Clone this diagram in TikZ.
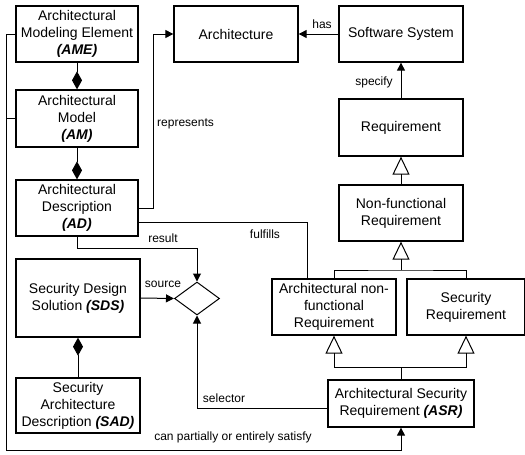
\documentclass[tikz,border=0pt]{standalone}
\usepackage{fontspec}
\setmainfont{Liberation Sans}
\usetikzlibrary{arrows.meta,shapes.geometric}

\newcommand{\abbr}[1]{\textbf{\textit{(#1)}}}

\begin{document}
\begin{tikzpicture}[x=1pt, y=-1pt,
    box/.style={draw, line width=1.3pt, align=center, inner sep=2pt,
        font=\fontsize{14}{17}\selectfont},
    lbl/.style={font=\fontsize{12}{14}\selectfont, inner sep=1pt},
    conn/.style={line width=1pt},
    arr/.style={conn, -{Triangle[length=8pt,width=8pt]}},
    comp/.style={conn, -{Diamond[length=18pt,width=10pt]}},
    gen/.style={conn, -{Triangle[open,length=18pt,width=17pt]}}]
    \useasboundingbox (0,0) rectangle (525,455);

    % classes
    \node[box, minimum width=122pt, minimum height=56pt] (ame) at (77,34)
        {Architectural\\Modeling Element\\\abbr{AME}};
    \node[box, minimum width=124pt, minimum height=56pt] (arch) at (236,34)
        {Architecture};
    \node[box, minimum width=124pt, minimum height=56pt] (ss) at (401,34)
        {Software System};
    \node[box, minimum width=122pt, minimum height=57pt] (am) at (77,118.5)
        {Architectural\\Model\\\abbr{AM}};
    \node[box, minimum width=124pt, minimum height=57pt] (req) at (401,127.5)
        {Requirement};
    \node[box, minimum width=122pt, minimum height=56pt] (ad) at (77,208)
        {Architectural\\Description\\\abbr{AD}};
    \node[box, minimum width=124pt, minimum height=56pt] (nfr) at (401,213)
        {Non-functional\\Requirement};
    \node[box, minimum width=124pt, minimum height=56pt] (anfr) at (334,307)
        {Architectural non-\\functional\\Requirement};
    \node[box, minimum width=118pt, minimum height=56pt] (sr) at (466,307)
        {Security\\Requirement};
    \node[box, minimum width=124pt, minimum height=78pt] (sds) at (78,298)
        {Security Design\\Solution \abbr{SDS}};
    \node[box, minimum width=124pt, minimum height=55pt] (sad) at (78,405.5)
        {Security\\Architecture\\Description \abbr{SAD}};
    \node[box, minimum width=146pt, minimum height=47pt] (asr) at (401,403.5)
        {Architectural Security\\Requirement \abbr{ASR}};
    \node[draw, line width=1pt, diamond, aspect=1.36, inner sep=0pt,
        minimum width=45pt, minimum height=33pt] (dia) at (197,298.5) {};

    % composition
    \draw[comp] (ame.south) -- (am.north);
    \draw[comp] (am.south) -- (ad.north);
    \draw[comp] (sad.north) -- (sds.south);

    % associations
    \draw[arr] (ss.west) -- (arch.east);
    \draw[arr] (req.north) -- (ss.south);
    \draw[arr] (ad.east) -- ++(15,0) |- (arch.west);
    \draw[conn] (ad.east |- 0,222) -| (anfr.north -| 307,0);
    \draw[arr] (ad.south) -- ++(0,12) -| (dia.north);
    \draw[arr] (sds.east) -- (dia.west);
    \draw[arr] (asr.west |- 0,408) -| (dia.south);

    \coordinate (lft) at (6,450);
    \draw[arr] (ame.west) -| (lft) -| (asr.south);
    \draw[conn] (am.west) -- (am.west -| lft);

    % generalization
    \coordinate (nfrj) at (401,270);
    \draw[gen] (nfrj) -- (nfr.south);
    \draw[conn] (anfr.north) |- (nfrj) -| (sr.north);
    \draw[gen] (req.south |- 0,185) -- (req.south);
    \coordinate (asrj) at (401,367);
    \draw[conn] (asr.north) -- (asrj);
    \draw[gen] (asrj) -| (anfr.south);
    \draw[gen] (asrj) -| (sr.south);

    % labels
    \node[lbl, anchor=west] (lrep) at (156,124) {represents};
    \node[lbl] (lhas) at (322,24) {has};
    \node[lbl] (lspec) at (374,82) {specify};
    \node[lbl] (lful) at (265,234) {fulfills};
    \node[lbl] (lres) at (163,238) {result};
    \node[lbl] (lsrc) at (163,284) {source};
    \node[lbl] (lsel) at (224,398) {selector};
    \node[lbl] (lsat) at (233,437) {can partially or entirely satisfy};
\end{tikzpicture}
\end{document}
